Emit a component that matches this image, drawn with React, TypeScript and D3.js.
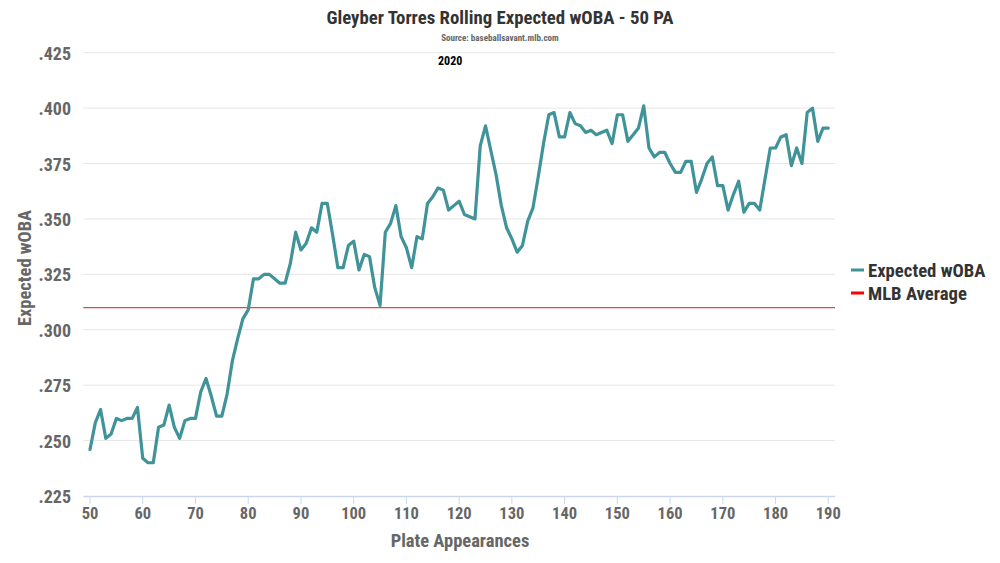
import React from 'react';
import * as d3 from 'd3';

// rolling expected wOBA, one value per plate appearance starting at PA 50
const startPA = 50;
const xwoba = [
  0.246, 0.258, 0.264, 0.251, 0.253, 0.260, 0.259, 0.260, 0.260, 0.265,
  0.242, 0.240, 0.240, 0.256, 0.257, 0.266, 0.256, 0.251, 0.259, 0.260,
  0.260, 0.272, 0.278, 0.270, 0.261, 0.261, 0.271, 0.286, 0.296, 0.305,
  0.309, 0.323, 0.323, 0.325, 0.325, 0.323, 0.321, 0.321, 0.330, 0.344,
  0.336, 0.339, 0.346, 0.344, 0.357, 0.357, 0.343, 0.328, 0.328, 0.338,
  0.340, 0.327, 0.334, 0.333, 0.319, 0.311, 0.344, 0.348, 0.356, 0.342,
  0.337, 0.328, 0.342, 0.341, 0.357, 0.360, 0.364, 0.363, 0.354, 0.356,
  0.358, 0.352, 0.351, 0.350, 0.383, 0.392, 0.381, 0.370, 0.356, 0.346,
  0.341, 0.335, 0.338, 0.349, 0.355, 0.369, 0.384, 0.397, 0.398, 0.387,
  0.387, 0.398, 0.393, 0.392, 0.389, 0.390, 0.388, 0.389, 0.390, 0.384,
  0.397, 0.397, 0.385, 0.388, 0.391, 0.401, 0.382, 0.378, 0.380, 0.380,
  0.375, 0.371, 0.371, 0.376, 0.376, 0.362, 0.368, 0.375, 0.378, 0.365,
  0.365, 0.354, 0.361, 0.367, 0.353, 0.357, 0.357, 0.354, 0.368, 0.382,
  0.382, 0.387, 0.388, 0.374, 0.382, 0.375, 0.398, 0.400, 0.385, 0.391,
  0.391,
];
const mlbAverage = 0.310;
const yTicks = [0.225, 0.25, 0.275, 0.3, 0.325, 0.35, 0.375, 0.4, 0.425];
const xTicks = [50, 60, 70, 80, 90, 100, 110, 120, 130, 140, 150, 160, 170, 180, 190];
const legendItems = [
  { name: 'Expected wOBA', color: '#3f9399' },
  { name: 'MLB Average', color: '#ff0000' },
];

const W = 1000;
const H = 563;
const font = '"Roboto Condensed", "Liberation Sans Narrow", Roboto, sans-serif';

export default function App() {
  const x = d3.scaleLinear().domain([50, 190]).range([90, 828.3]);
  const y = d3.scaleLinear().domain([0.225, 0.425]).range([496, 52.7]);
  const plotLeft = 83.3;
  const plotRight = 835;

  const points: [number, number][] = xwoba.map((v, i) => [startPA + i, v]);
  const line = d3.line<[number, number]>()
    .x(d => x(d[0]))
    .y(d => y(d[1]));

  const fmt = (v: number) => d3.format('.3f')(v).replace(/^0/, '');

  return (
    <svg width={W} height={H} style={{ display: 'block', position: 'absolute', left: 0, top: 0, background: '#fff' }}
      fontFamily={font} fontWeight="bold">
      {/* title block */}
      <text x={500} y={24} textAnchor="middle" fontSize={18.8} fill="#333">
        Gleyber Torres Rolling Expected wOBA - 50 PA
      </text>
      <text x={500} y={41} textAnchor="middle" fontSize={9} fill="#666">
        Source: baseballsavant.mlb.com
      </text>
      <text x={438} y={65} fontSize={12} fill="#000">2020</text>

      {/* grid */}
      {yTicks.map(t => (
        <g key={t}>
          {t !== 0.225 && (
            <line x1={plotLeft} x2={plotRight} y1={y(t)} y2={y(t)} stroke="#e6e6e6" strokeWidth={1} />
          )}
          <text x={71} y={y(t) + 7} textAnchor="end" fontSize={18} fill="#666">{fmt(t)}</text>
        </g>
      ))}

      {/* x axis */}
      <line x1={plotLeft} x2={plotRight} y1={496.5} y2={496.5} stroke="#ccd6eb" strokeWidth={1.5} />
      {xTicks.map(t => (
        <g key={t}>
          <line x1={x(t)} x2={x(t)} y1={496} y2={504} stroke="#ccd6eb" strokeWidth={1} />
          <text x={x(t)} y={519} textAnchor="middle" fontSize={16.5} fill="#666">{t}</text>
        </g>
      ))}

      <text x={460} y={547} textAnchor="middle" fontSize={18.5} fill="#666">Plate Appearances</text>
      <text transform={`translate(31,268) rotate(-90)`} textAnchor="middle" fontSize={18.5} fill="#666">
        Expected wOBA
      </text>

      {/* MLB average */}
      <line x1={plotLeft} x2={plotRight} y1={y(mlbAverage)} y2={y(mlbAverage)} stroke="#e04848" strokeWidth={1.2} />

      {/* series */}
      <path d={line(points) ?? ''} fill="none" stroke={legendItems[0].color} strokeWidth={3.2}
        strokeLinejoin="round" strokeLinecap="round" />

      {/* legend */}
      {legendItems.map((item, i) => (
        <g key={item.name} transform={`translate(850,${270 + i * 23})`}>
          <line x1={1} x2={14} y1={0} y2={0} stroke={item.color} strokeWidth={3} />
          <text x={18} y={6.5} fontSize={18.7} fill="#333">{item.name}</text>
        </g>
      ))}
    </svg>
  );
}
